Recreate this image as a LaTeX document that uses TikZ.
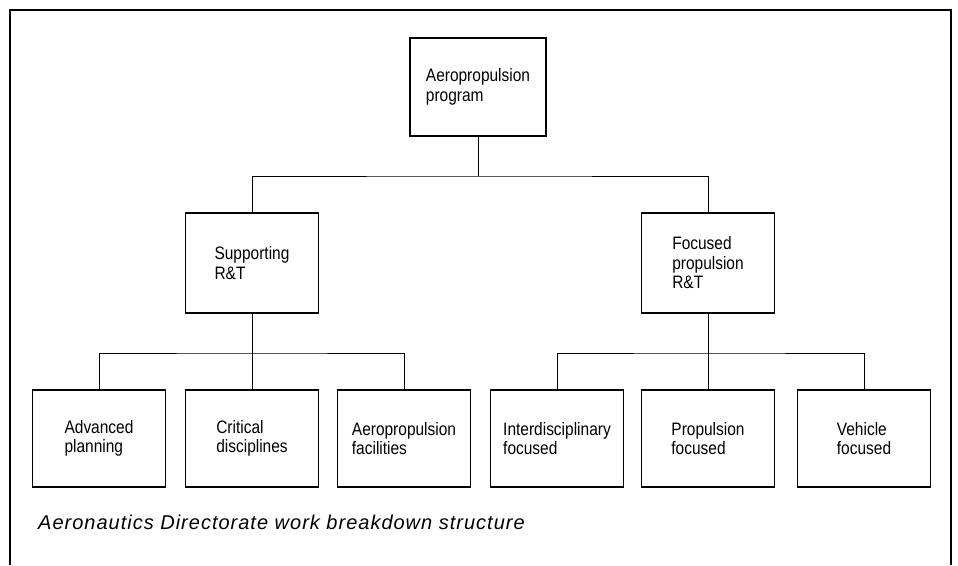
\documentclass[tikz,border=0pt]{standalone}
\usepackage{fontspec}
\newfontfamily\boxfont{Liberation Sans}[FakeStretch=0.86]
\newfontfamily\capfont{Liberation Sans}[LetterSpace=5]
\begin{document}
\begin{tikzpicture}[x=1pt,y=-1pt,
  wbs/.style={draw, line width=1.7pt, minimum width=133pt, minimum height=98pt,
    inner sep=0pt, align=left, font=\boxfont\fontsize{18}{19.5}\selectfont},
  link/.style={line width=0.9pt}]
\useasboundingbox (0,0) rectangle (958,565);
% open frame around the chart
\draw[line width=1.8pt] (10,565) -- (10,10) -- (951,10) -- (951,565);

% level 1
\node[wbs, minimum width=136pt] (top) at (478,87) {Aeropropulsion\\program};
% level 2
\node[wbs, minimum height=100pt] (sup) at (252,263) {Supporting\\R\&T};
\node[wbs, minimum height=100pt] (foc) at (708,263) {Focused\\propulsion\\R\&T};
% level 3
\node[wbs, minimum height=97pt] (adv)   at (99,438.5)  {Advanced\\planning};
\node[wbs, minimum height=97pt] (crit)  at (252,438.5) {Critical\\disciplines};
\node[wbs, minimum height=97pt] (fac)   at (404,438.5) {Aeropropulsion\\facilities};
\node[wbs, minimum height=97pt] (inter) at (557,438.5) {Interdisciplinary\\focused};
\node[wbs, minimum height=97pt] (prop)  at (708,438.5) {Propulsion\\focused};
\node[wbs, minimum height=97pt] (veh)   at (864,438.5) {Vehicle\\focused};

% bus lines
\coordinate (bus1) at (478,176);
\coordinate (bus2) at (252,353);
\coordinate (bus3) at (708,353);

\draw[link] (top.south) -- (bus1);
\draw[link] (sup.north) |- (bus1) -| (foc.north);

\draw[link] (sup.south) -- (crit.north);
\draw[link] (adv.north) |- (bus2) -| (fac.north);

\draw[link] (foc.south) -- (prop.north);
\draw[link] (inter.north) |- (bus3) -| (veh.north);

\node[anchor=base west, inner sep=0pt,
  font=\capfont\itshape\fontsize{20}{22}\selectfont] (cap) at (38,529)
  {Aeronautics Directorate work breakdown structure};
\end{tikzpicture}
\end{document}
